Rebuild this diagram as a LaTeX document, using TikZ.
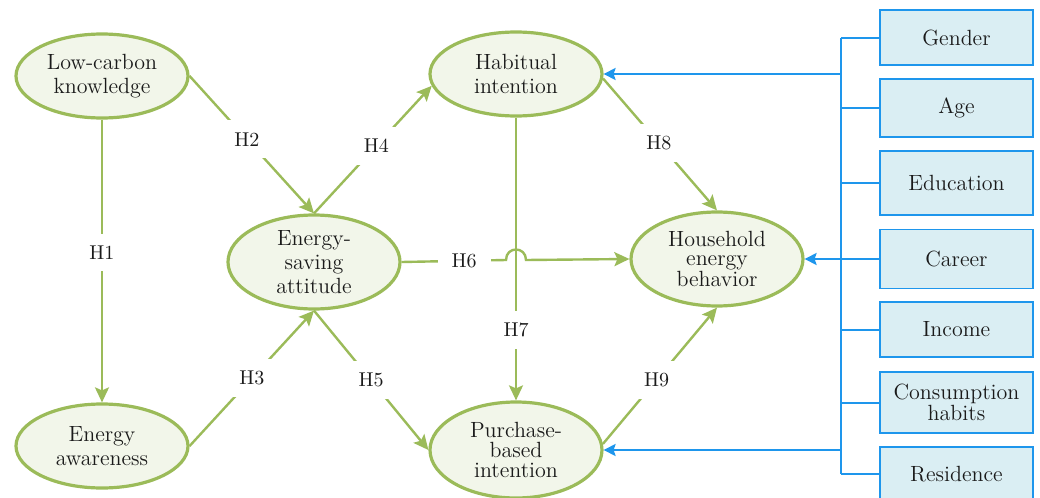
\documentclass[tikz,border=0pt]{standalone}
\usetikzlibrary{shapes.geometric,arrows.meta,calc}
\definecolor{gline}{HTML}{9BBB59}
\definecolor{gfill}{HTML}{F2F6EA}
\definecolor{bcol}{HTML}{1E96EC}
\definecolor{bfill}{HTML}{DAEEF3}
\definecolor{txt}{HTML}{1A1A1A}
\begin{document}
\begin{tikzpicture}[x=0.5pt,y=-0.5pt,
  ell/.style={ellipse,draw=gline,line width=1.6pt,fill=gfill,minimum width=86pt,minimum height=42pt,inner sep=0pt,align=center,text=txt,font=\fontsize{11}{12}\selectfont},
  fact/.style={rectangle,draw=bcol,line width=0.9pt,fill=bfill,minimum width=76.5pt,inner sep=0pt,align=center,text=txt,font=\fontsize{11}{10.5}\selectfont},
  garrow/.style={draw=gline,line width=1.2pt,-{Stealth[length=7.5pt,width=7pt,inset=1.5pt]}},
  bconn/.style={draw=bcol,line width=1pt},
  barrow/.style={draw=bcol,line width=1pt,-{Stealth[length=6pt,width=6pt,inset=1pt]}},
  lbl/.style={fill=white,inner xsep=7pt,inner ysep=6pt,text=txt,font=\fontsize{10}{12}\selectfont}
]
\useasboundingbox (0,0) rectangle (1040,498);
% ellipses
\node[ell] (lck) at (102,76) {Low-carbon\\knowledge};
\node[ell] (aw) at (102,446) {Energy\\awareness};
\node[ell,minimum height=47pt] (att) at (314,262) {Energy-\\saving\\attitude};
\node[ell] (hab) at (516,74) {Habitual\\intention};
\node[ell,minimum height=48pt,font=\fontsize{11}{10}\selectfont] (pur) at (516,450) {Purchase-\\based\\intention};
\node[ell,minimum height=47pt,font=\fontsize{11}{9.5}\selectfont] (hh) at (717,259) {Household\\energy\\behavior};
% factor boxes
\node[fact,minimum height=27.5pt] (gen) at (956.5,37.5) {Gender};
\node[fact,minimum height=29pt] (age) at (956.5,108) {Age};
\node[fact,minimum height=32pt] (edu) at (956.5,183) {Education};
\node[fact,minimum height=29.5pt] (car) at (956.5,259) {Career};
\node[fact,minimum height=27.5pt] (inc) at (956.5,329.5) {Income};
\node[fact,minimum height=30.5pt] (con) at (956.5,402.5) {Consumption\\habits};
\node[fact,minimum height=27pt] (res) at (956.5,474) {Residence};
% trunk
\coordinate (tx) at (841,0);
\draw[bconn] (gen.west -| tx) -- (res.west -| tx);
\foreach \b in {gen,age,edu,inc,con,res}{
  \draw[bconn] (\b.west) -- (\b.west -| tx);
}
\draw[barrow] (hab.east -| tx) -- (hab.east);
\draw[barrow] (pur.east -| tx) -- (pur.east);
\draw[barrow] (car.west) -- (hh.east);
% hypotheses
\draw[garrow] (lck.south) -- node[lbl,pos=0.47] {H1} (aw.north);
\draw[garrow] (lck.east) -- node[lbl,pos=0.46] {H2} (att.north);
\draw[garrow] (aw.east) -- node[lbl] {H3} (att.south);
\draw[garrow] (att.north) -- node[lbl,pos=0.53] {H4} (hab.188);
\draw[garrow] (att.south) -- node[lbl] {H5} (pur.west);
\draw[garrow] (hab.south) -- node[lbl,pos=0.75] {H7} (pur.north);
\coordinate (bumpL) at (506,260);
\coordinate (bumpR) at (526,260);
\draw[garrow] (att.east) -- node[lbl,pos=0.6] {H6} (bumpL) .. controls (506,246) and (526,246) .. (bumpR) -- (hh.west);
\draw[garrow] (hab.357) -- node[lbl,pos=0.49] {H8} (hh.north);
\draw[garrow] (pur.4) -- node[lbl,pos=0.47] {H9} (hh.south);
\end{tikzpicture}
\end{document}
